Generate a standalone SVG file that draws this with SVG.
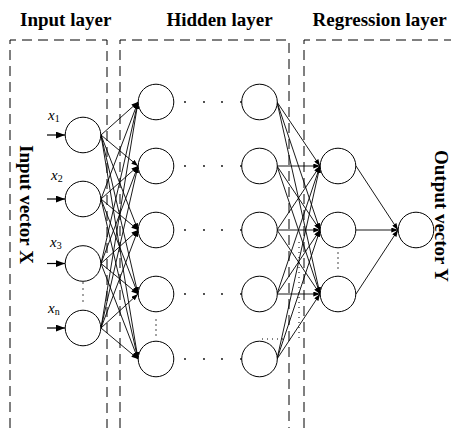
<svg xmlns="http://www.w3.org/2000/svg" width="451" height="428" viewBox="0 0 451 428">
<style>
.title{font-family:"Liberation Serif","Times New Roman",serif;font-weight:bold;font-size:19px;fill:#000}
.lab{font-family:"Liberation Serif","Times New Roman",serif;font-style:italic;font-size:15px;fill:#000}
.sub{font-style:normal;font-size:10px}
.box{fill:none;stroke:#000;stroke-width:1;stroke-dasharray:10 6}
.node{fill:#fff;stroke:#000;stroke-width:1}
.conn line{stroke:#000;stroke-width:0.9;marker-end:url(#ah)}
.inarr line{stroke:#000;stroke-width:1.2;marker-end:url(#ahb)}
.dots circle{fill:#000}
.dotted{fill:none;stroke:#000;stroke-width:1;stroke-dasharray:1 4}
</style>
<defs>
<marker id="ah" viewBox="0 0 8 6" refX="8" refY="3" markerWidth="7" markerHeight="5" markerUnits="userSpaceOnUse" orient="auto">
<path d="M0,0 L8,3 L0,6 z" fill="#000"/>
</marker>
<marker id="ahb" viewBox="0 0 8 6" refX="8" refY="3" markerWidth="9" markerHeight="7" markerUnits="userSpaceOnUse" orient="auto">
<path d="M0,0 L8,3 L0,6 z" fill="#000"/>
</marker>
</defs>
<rect width="451" height="428" fill="#fff"/>
<g id="titles">
<text class="title" x="20" y="26">Input layer</text>
<text class="title" x="166.5" y="26">Hidden layer</text>
<text class="title" x="312.5" y="26">Regression layer</text>
<text class="title" transform="translate(20,145) rotate(90)">Input vector X</text>
<text class="title" transform="translate(435,150) rotate(90)">Output vector Y</text>
</g>
<g id="layer-boxes">
<path class="box" d="M10,428 V40 H107 V428"/>
<path class="box" d="M120,428 V40 H289 V428"/>
<path class="box" d="M304,428 V40 H451"/>
</g>
<g id="connectors">
<g class="inarr">
<line x1="47" y1="135" x2="65" y2="135"/>
<line x1="47" y1="199" x2="65" y2="199"/>
<line x1="47" y1="263.5" x2="65" y2="263.5"/>
<line x1="47" y1="328" x2="65" y2="328"/>
</g>
<g class="conn">
<line x1="101" y1="135" x2="138" y2="102"/>
<line x1="101" y1="135" x2="138" y2="166"/>
<line x1="101" y1="135" x2="138" y2="230"/>
<line x1="101" y1="135" x2="138" y2="294"/>
<line x1="101" y1="135" x2="138" y2="359"/>
<line x1="101" y1="199" x2="138" y2="102"/>
<line x1="101" y1="199" x2="138" y2="166"/>
<line x1="101" y1="199" x2="138" y2="230"/>
<line x1="101" y1="199" x2="138" y2="294"/>
<line x1="101" y1="199" x2="138" y2="359"/>
<line x1="101" y1="263.5" x2="138" y2="102"/>
<line x1="101" y1="263.5" x2="138" y2="166"/>
<line x1="101" y1="263.5" x2="138" y2="230"/>
<line x1="101" y1="263.5" x2="138" y2="294"/>
<line x1="101" y1="263.5" x2="138" y2="359"/>
<line x1="101" y1="328" x2="138" y2="102"/>
<line x1="101" y1="328" x2="138" y2="166"/>
<line x1="101" y1="328" x2="138" y2="230"/>
<line x1="101" y1="328" x2="138" y2="294"/>
<line x1="101" y1="328" x2="138" y2="359"/>
<line x1="277" y1="102" x2="320" y2="166"/>
<line x1="277" y1="102" x2="320" y2="230"/>
<line x1="277" y1="102" x2="320" y2="294"/>
<line x1="277" y1="166" x2="320" y2="166"/>
<line x1="277" y1="166" x2="320" y2="230"/>
<line x1="277" y1="166" x2="320" y2="294"/>
<line x1="277" y1="230" x2="320" y2="166"/>
<line x1="277" y1="230" x2="320" y2="230"/>
<line x1="277" y1="230" x2="320" y2="294"/>
<line x1="277" y1="294" x2="320" y2="166"/>
<line x1="277" y1="294" x2="320" y2="230"/>
<line x1="277" y1="294" x2="320" y2="294"/>
<line x1="277" y1="359" x2="320" y2="166"/>
<line x1="277" y1="359" x2="320" y2="230"/>
<line x1="277" y1="359" x2="320" y2="294"/>
<line x1="356" y1="166" x2="398" y2="230"/>
<line x1="356" y1="230" x2="398" y2="230"/>
<line x1="356" y1="294" x2="398" y2="230"/>
</g>
<path class="dotted" d="M299,242 V342 M262,339 H284"/>
</g>
<g id="ellipses" class="dots">
<circle cx="185" cy="102" r="0.9"/><circle cx="204" cy="102" r="0.9"/><circle cx="222" cy="102" r="0.9"/><circle cx="241" cy="102" r="0.9"/>
<circle cx="185" cy="166" r="0.9"/><circle cx="204" cy="166" r="0.9"/><circle cx="222" cy="166" r="0.9"/><circle cx="241" cy="166" r="0.9"/>
<circle cx="185" cy="230" r="0.9"/><circle cx="204" cy="230" r="0.9"/><circle cx="222" cy="230" r="0.9"/><circle cx="241" cy="230" r="0.9"/>
<circle cx="185" cy="294" r="0.9"/><circle cx="204" cy="294" r="0.9"/><circle cx="222" cy="294" r="0.9"/><circle cx="241" cy="294" r="0.9"/>
<circle cx="185" cy="359" r="0.9"/><circle cx="204" cy="359" r="0.9"/><circle cx="222" cy="359" r="0.9"/><circle cx="241" cy="359" r="0.9"/>
<circle cx="83" cy="283" r="0.7"/><circle cx="83" cy="289" r="0.7"/><circle cx="83" cy="295" r="0.7"/><circle cx="83" cy="301" r="0.7"/>
<circle cx="156" cy="320" r="0.7"/><circle cx="156" cy="325" r="0.7"/><circle cx="156" cy="330" r="0.7"/><circle cx="156" cy="335" r="0.7"/>
<circle cx="338" cy="253" r="0.7"/><circle cx="338" cy="258" r="0.7"/><circle cx="338" cy="263" r="0.7"/><circle cx="338" cy="268" r="0.7"/>
</g>
<g id="input-labels">
<text class="lab" x="48" y="120">x<tspan class="sub" dy="2">1</tspan></text>
<text class="lab" x="51" y="180">x<tspan class="sub" dy="2">2</tspan></text>
<text class="lab" x="50" y="247">x<tspan class="sub" dy="2">3</tspan></text>
<text class="lab" x="48" y="313">x<tspan class="sub" dy="2">n</tspan></text>
</g>
<g id="in1"><circle class="node" cx="83" cy="135" r="17.8"/></g>
<g id="in2"><circle class="node" cx="83" cy="199" r="17.8"/></g>
<g id="in3"><circle class="node" cx="83" cy="263.5" r="17.8"/></g>
<g id="inn"><circle class="node" cx="83" cy="328" r="17.8"/></g>
<g id="h1a"><circle class="node" cx="156" cy="102" r="17.8"/></g>
<g id="h1b"><circle class="node" cx="156" cy="166" r="17.8"/></g>
<g id="h1c"><circle class="node" cx="156" cy="230" r="17.8"/></g>
<g id="h1d"><circle class="node" cx="156" cy="294" r="17.8"/></g>
<g id="h1e"><circle class="node" cx="156" cy="359" r="17.8"/></g>
<g id="h2a"><circle class="node" cx="259.5" cy="102" r="17.8"/></g>
<g id="h2b"><circle class="node" cx="259.5" cy="166" r="17.8"/></g>
<g id="h2c"><circle class="node" cx="259.5" cy="230" r="17.8"/></g>
<g id="h2d"><circle class="node" cx="259.5" cy="294" r="17.8"/></g>
<g id="h2e"><circle class="node" cx="259.5" cy="359" r="17.8"/></g>
<g id="r1"><circle class="node" cx="338" cy="166" r="17.8"/></g>
<g id="r2"><circle class="node" cx="338" cy="230" r="17.8"/></g>
<g id="r3"><circle class="node" cx="338" cy="294" r="17.8"/></g>
<g id="out"><circle class="node" cx="416" cy="230" r="17.8"/></g>
</svg>
